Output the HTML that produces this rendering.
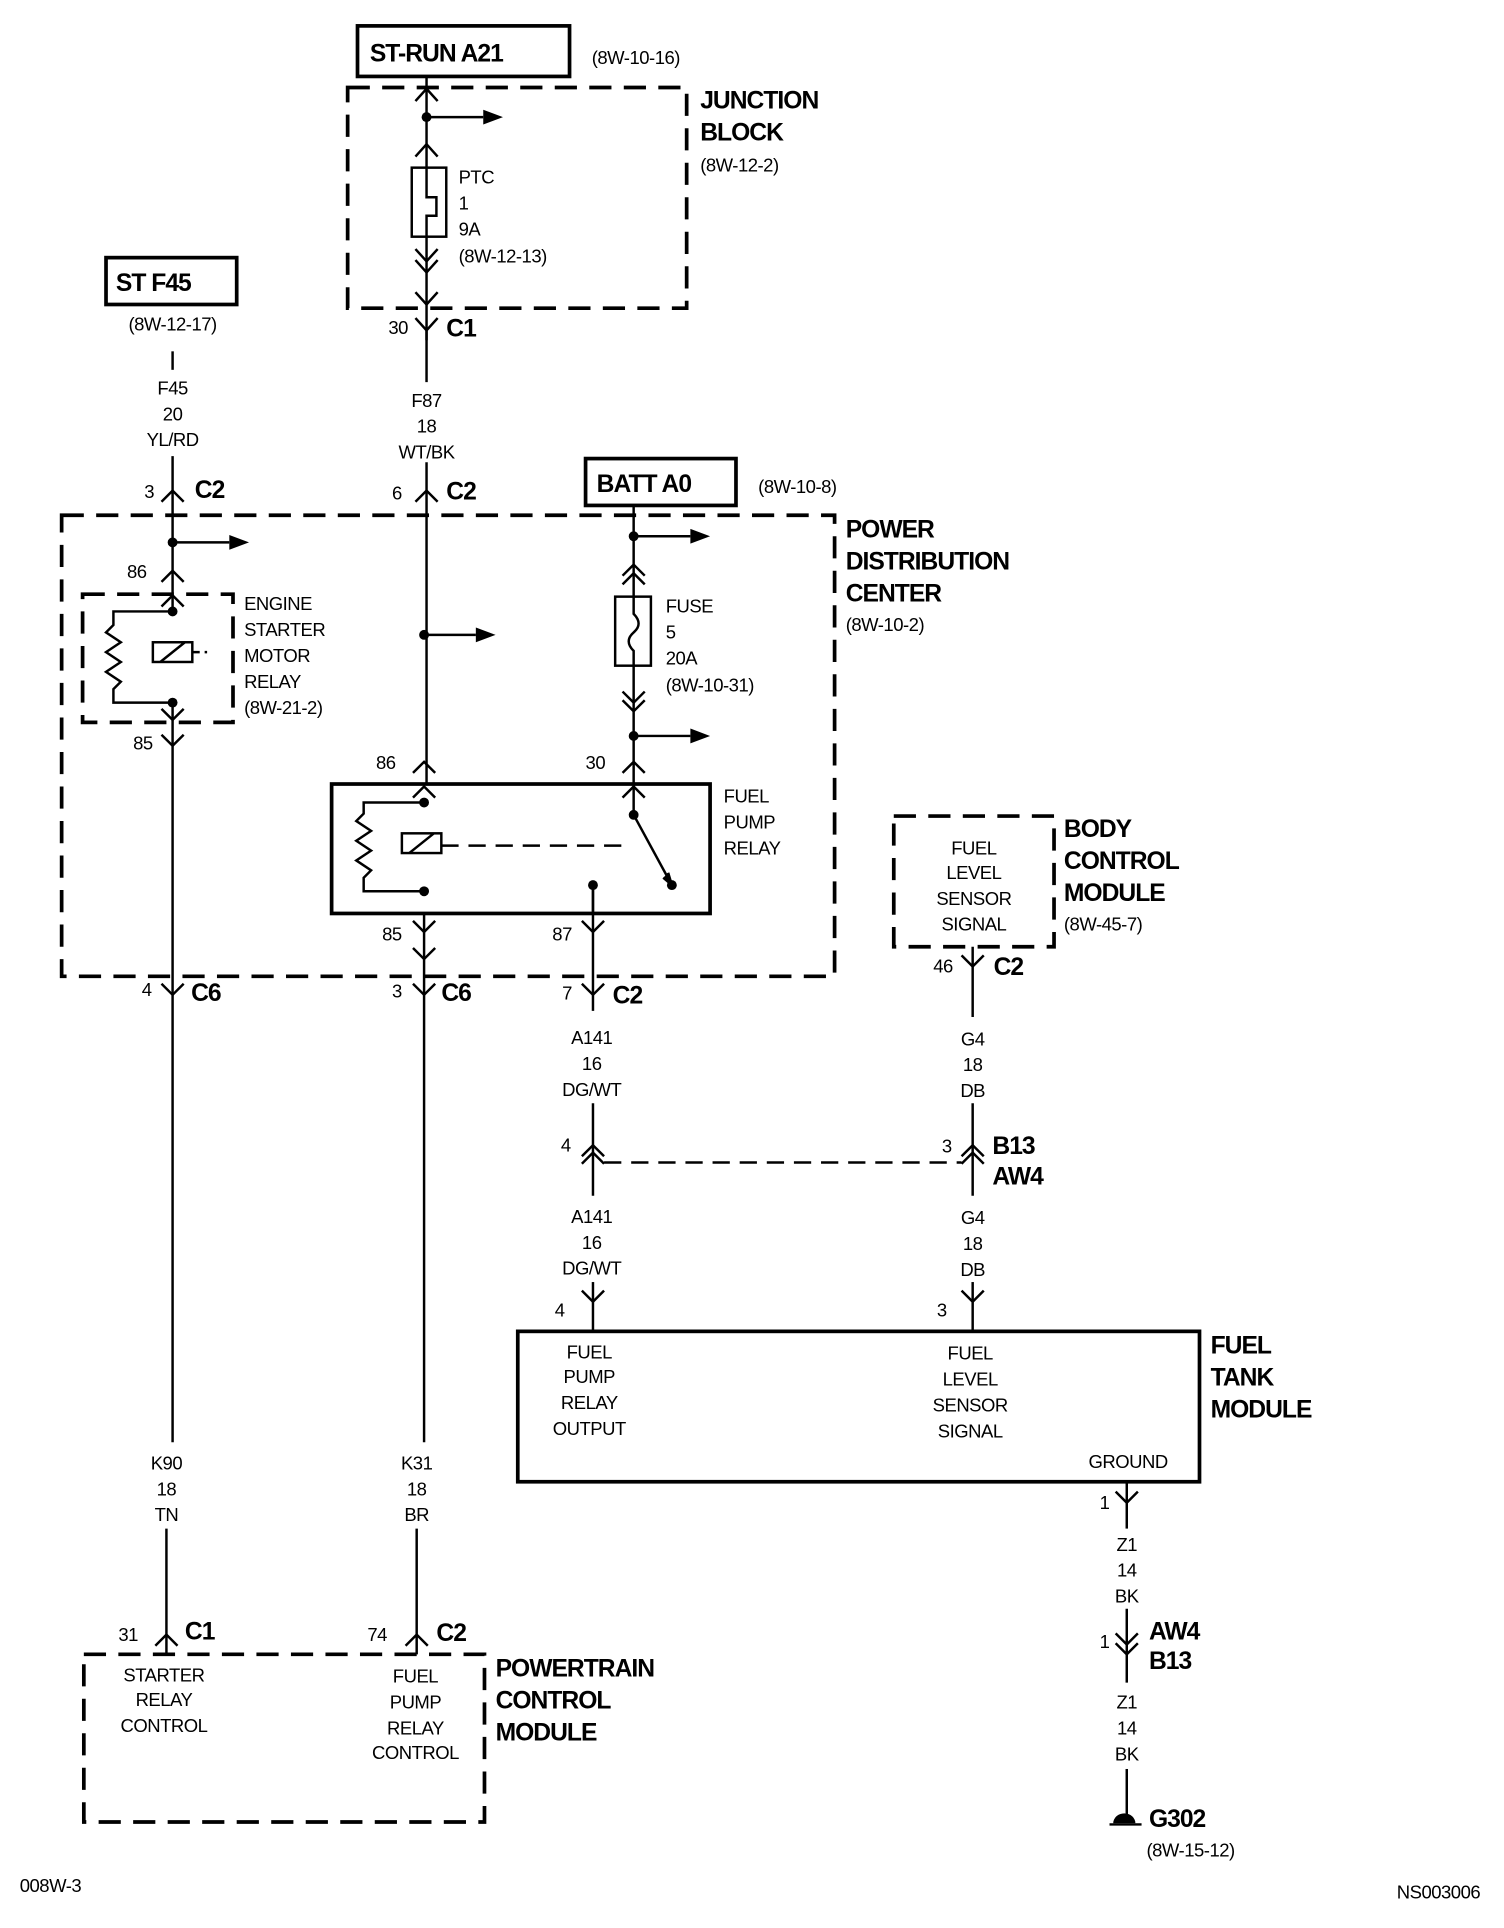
<!DOCTYPE html>
<html><head><meta charset="utf-8"><style>html,body{margin:0;padding:0;background:#fff}svg{display:block}</style></head>
<body>
<svg width="1504" height="1928" viewBox="0 0 1220 1564" preserveAspectRatio="none" xmlns="http://www.w3.org/2000/svg" font-family="Liberation Sans, Arial, sans-serif">
<g fill="none" stroke="#000" stroke-width="2">
<rect x="290" y="21" width="172" height="41" stroke-width="3"/>
<rect x="86" y="209" width="106" height="38" stroke-width="3"/>
<rect x="475" y="372" width="122" height="38" stroke-width="3"/>
<rect x="269" y="636" width="307" height="105" stroke-width="3"/>
<rect x="420" y="1080" width="553" height="122" stroke-width="3"/>
<g stroke-width="3" stroke-dasharray="18,10">
<rect x="282" y="71" width="275" height="179"/>
<rect x="50" y="418" width="627" height="374"/>
<rect x="67" y="482" width="122" height="104"/>
<rect x="725" y="662" width="130" height="106"/>
<rect x="68" y="1342" width="325" height="136"/>
</g>
<line x1="346" y1="62" x2="346" y2="136"/>
<line x1="346" y1="192" x2="346" y2="310"/>
<line x1="346" y1="375" x2="346" y2="636"/>
<line x1="140" y1="285" x2="140" y2="300"/>
<line x1="140" y1="370" x2="140" y2="496"/>
<line x1="140" y1="570" x2="140" y2="1170"/>
<line x1="135" y1="1240" x2="135" y2="1342"/>
<line x1="344" y1="741" x2="344" y2="1170"/>
<line x1="338" y1="1240" x2="338" y2="1342"/>
<line x1="514" y1="410" x2="514" y2="484"/>
<line x1="514" y1="540" x2="514" y2="661"/>
<line x1="514" y1="661" x2="545" y2="718"/>
<line x1="481" y1="718" x2="481" y2="820"/>
<line x1="481" y1="895" x2="481" y2="970"/>
<line x1="481" y1="1040" x2="481" y2="1080"/>
<line x1="789" y1="768" x2="789" y2="825"/>
<line x1="789" y1="895" x2="789" y2="970"/>
<line x1="789" y1="1040" x2="789" y2="1080"/>
<line x1="914" y1="1202" x2="914" y2="1240"/>
<line x1="914" y1="1305" x2="914" y2="1365"/>
<line x1="914" y1="1435" x2="914" y2="1472"/>
<line x1="490" y1="943" x2="780" y2="943" stroke-dasharray="14,8"/>
<line x1="346" y1="95" x2="392" y2="95"/>
<line x1="140" y1="440" x2="186" y2="440"/>
<line x1="344" y1="515" x2="386" y2="515"/>
<line x1="514" y1="435" x2="560" y2="435"/>
<line x1="514" y1="597" x2="560" y2="597"/>
<rect x="334" y="136" width="28" height="56"/>
<path d="M346 136 V160 H354 V175 H346 V192"/>
<rect x="499" y="484" width="29" height="56"/>
<path d="M514 484 V498 Q522 506 514 513 Q506 520 514 528 V540"/>
<path d="M140 496 H92 V507 L86 513 L98 521 L86 529 L98 537 L86 545 L98 553 L92 559 V570 H140"/>
<rect x="124" y="521" width="32" height="16"/>
<line x1="130" y1="537" x2="150" y2="521"/>
<line x1="156" y1="529" x2="168" y2="529" stroke-dasharray="6,4"/>
<path d="M344 651 H295 V660 L289 666 L301 674 L289 682 L301 690 L289 698 L301 706 L295 712 V723 H344"/>
<rect x="326" y="676" width="32" height="16"/>
<line x1="332" y1="692" x2="352" y2="676"/>
<line x1="358" y1="686" x2="512" y2="686" stroke-dasharray="14,8"/>
<line x1="481" y1="718" x2="481" y2="741"/>
<path d="M337 82 L346 72 L355 82 M337 127 L346 117 L355 127 M131 407 L140 398 L149 407 M337 407 L346 398 L355 407 M131 472 L140 463 L149 472 M131 492 L140 483 L149 492 M335 627 L344 618 L353 627 M335 647 L344 638 L353 647 M505 467 L514 458 L523 467 M505 474 L514 465 L523 474 M505 627 L514 618 L523 627 M505 647 L514 638 L523 647 M472 938 L481 929 L490 938 M472 944 L481 935 L490 944 M780 938 L789 929 L798 938 M780 944 L789 935 L798 944 M126 1335 L135 1326 L144 1335 M329 1335 L338 1326 L347 1335"/>
<path d="M337 202 L346 212 L355 202 M337 211 L346 221 L355 211 M337 237 L346 247 L355 237 M337 258 L346 268 L355 258 M346 268 V276 M131 575 L140 584 L149 575 M131 596 L140 605 L149 596 M131 798 L140 807 L149 798 M335 747 L344 756 L353 747 M335 769 L344 778 L353 769 M335 798 L344 807 L353 798 M472 747 L481 756 L490 747 M472 798 L481 807 L490 798 M505 561 L514 570 L523 561 M505 568 L514 577 L523 568 M780 775 L789 784 L798 775 M472 1047 L481 1056 L490 1047 M780 1047 L789 1056 L798 1047 M905 1210 L914 1219 L923 1210 M905 1325 L914 1334 L923 1325 M905 1333 L914 1342 L923 1333"/>
<path d="M538 712 L545 718 L542 708" fill="#000"/>
<line x1="900" y1="1480" x2="926" y2="1480" stroke-width="2"/>
</g>
<g fill="#000">
<path d="M392 89 L408 95 L392 101Z"/><path d="M186 434 L202 440 L186 446Z"/><path d="M386 509 L402 515 L386 521Z"/>
<path d="M560 429 L576 435 L560 441Z"/><path d="M560 591 L576 597 L560 603Z"/>
<circle cx="346" cy="95" r="4"/><circle cx="140" cy="440" r="4"/><circle cx="140" cy="496" r="4"/><circle cx="140" cy="570" r="4"/>
<circle cx="344" cy="515" r="4"/><circle cx="344" cy="651" r="4"/><circle cx="344" cy="723" r="4"/>
<circle cx="514" cy="435" r="4"/><circle cx="514" cy="597" r="4"/><circle cx="514" cy="661" r="4"/><circle cx="545" cy="718" r="4"/><circle cx="481" cy="718" r="4"/>
<path d="M903 1479 A9 8 0 0 1 921 1479Z"/>
</g>
<g font-size="20" font-weight="bold" letter-spacing="-0.8">
<text x="300" y="50">ST-RUN A21</text><text x="94" y="236">ST F45</text><text x="484" y="399">BATT A0</text>
<text x="568" y="88">JUNCTION</text><text x="568" y="114">BLOCK</text>
<text x="686" y="436">POWER</text><text x="686" y="462">DISTRIBUTION</text><text x="686" y="488">CENTER</text>
<text x="863" y="679">BODY</text><text x="863" y="705">CONTROL</text><text x="863" y="731">MODULE</text>
<text x="982" y="1098">FUEL</text><text x="982" y="1124">TANK</text><text x="982" y="1150">MODULE</text>
<text x="402" y="1360">POWERTRAIN</text><text x="402" y="1386">CONTROL</text><text x="402" y="1412">MODULE</text>
<text x="362" y="273">C1</text><text x="158" y="404">C2</text><text x="362" y="405">C2</text>
<text x="155" y="812">C6</text><text x="358" y="812">C6</text><text x="497" y="814">C2</text><text x="806" y="791">C2</text>
<text x="805" y="936">B13</text><text x="805" y="961">AW4</text><text x="150" y="1330">C1</text><text x="354" y="1331">C2</text>
<text x="932" y="1330">AW4</text><text x="932" y="1354">B13</text><text x="932" y="1482">G302</text>
</g>
<g font-size="15" letter-spacing="-0.4">
<text x="480" y="52">(8W-10-16)</text><text x="568" y="139">(8W-12-2)</text>
<text x="372" y="149">PTC</text><text x="372" y="170">1</text><text x="372" y="191">9A</text><text x="372" y="213">(8W-12-13)</text>
<text x="615" y="400">(8W-10-8)</text><text x="686" y="512">(8W-10-2)</text>
<text x="198" y="495">ENGINE</text><text x="198" y="516">STARTER</text><text x="198" y="537">MOTOR</text><text x="198" y="558">RELAY</text><text x="198" y="579">(8W-21-2)</text>
<text x="540" y="497">FUSE</text><text x="540" y="518">5</text><text x="540" y="539">20A</text><text x="540" y="561">(8W-10-31)</text>
<text x="587" y="651">FUEL</text><text x="587" y="672">PUMP</text><text x="587" y="693">RELAY</text>
<text x="863" y="755">(8W-45-7)</text><text x="930" y="1506">(8W-15-12)</text>
<text x="315" y="271">30</text><text x="117" y="404">3</text><text x="318" y="405">6</text><text x="103" y="469">86</text><text x="108" y="608">85</text>
<text x="305" y="624">86</text><text x="475" y="624">30</text><text x="310" y="763">85</text><text x="448" y="763">87</text>
<text x="115" y="808">4</text><text x="318" y="809">3</text><text x="456" y="811">7</text><text x="757" y="789">46</text>
<text x="455" y="934">4</text><text x="764" y="935">3</text><text x="450" y="1068">4</text><text x="760" y="1068">3</text>
<text x="892" y="1224">1</text><text x="892" y="1337">1</text><text x="96" y="1331">31</text><text x="298" y="1331">74</text>
<text x="16" y="1535">008W-3</text><text x="1133" y="1540">NS003006</text>
<text x="883" y="1191">GROUND</text>
</g>
<g font-size="15" text-anchor="middle" letter-spacing="-0.4">
<text x="140" y="268">(8W-12-17)</text>
<text x="140" y="320">F45</text><text x="140" y="341">20</text><text x="140" y="362">YL/RD</text>
<text x="346" y="330">F87</text><text x="346" y="351">18</text><text x="346" y="372">WT/BK</text>
<text x="480" y="847">A141</text><text x="480" y="868">16</text><text x="480" y="889">DG/WT</text>
<text x="480" y="992">A141</text><text x="480" y="1013">16</text><text x="480" y="1034">DG/WT</text>
<text x="789" y="848">G4</text><text x="789" y="869">18</text><text x="789" y="890">DB</text>
<text x="789" y="993">G4</text><text x="789" y="1014">18</text><text x="789" y="1035">DB</text>
<text x="790" y="693">FUEL</text><text x="790" y="713">LEVEL</text><text x="790" y="734">SENSOR</text><text x="790" y="755">SIGNAL</text>
<text x="478" y="1102">FUEL</text><text x="478" y="1122">PUMP</text><text x="478" y="1143">RELAY</text><text x="478" y="1164">OUTPUT</text>
<text x="787" y="1103">FUEL</text><text x="787" y="1124">LEVEL</text><text x="787" y="1145">SENSOR</text><text x="787" y="1166">SIGNAL</text>
<text x="135" y="1192">K90</text><text x="135" y="1213">18</text><text x="135" y="1234">TN</text>
<text x="338" y="1192">K31</text><text x="338" y="1213">18</text><text x="338" y="1234">BR</text>
<text x="914" y="1258">Z1</text><text x="914" y="1279">14</text><text x="914" y="1300">BK</text>
<text x="914" y="1386">Z1</text><text x="914" y="1407">14</text><text x="914" y="1428">BK</text>
<text x="133" y="1364">STARTER</text><text x="133" y="1384">RELAY</text><text x="133" y="1405">CONTROL</text>
<text x="337" y="1365">FUEL</text><text x="337" y="1386">PUMP</text><text x="337" y="1407">RELAY</text><text x="337" y="1427">CONTROL</text>
</g>
</svg>
</body></html>
